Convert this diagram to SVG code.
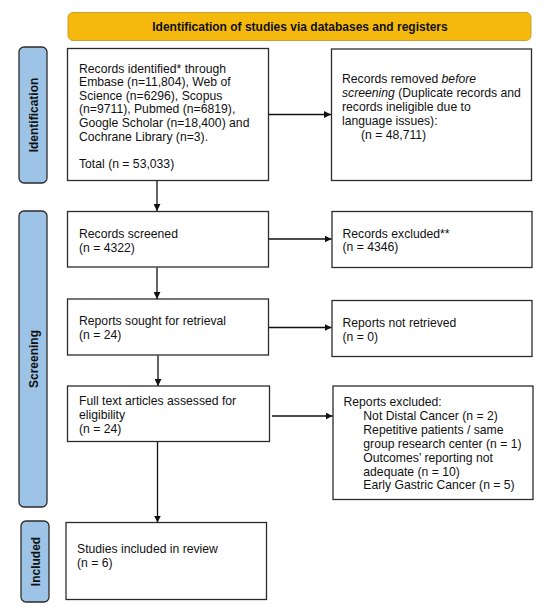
<svg xmlns="http://www.w3.org/2000/svg" width="550" height="614" viewBox="0 0 550 614">
<defs>
<marker id="ah" viewBox="0 0 10 10" refX="10" refY="5" markerWidth="7" markerHeight="7" markerUnits="userSpaceOnUse" orient="auto"><path d="M0,0 L10,5 L0,10 z" fill="#111"/></marker>
<style>
.box{fill:#fff;stroke:#2b2b2b;stroke-width:1.3}
.side{fill:#9dc3e6;stroke:#2b2b2b;stroke-width:1.3}
.t{font-family:"Liberation Sans",Arial,sans-serif;font-size:12.2px;fill:#111}
.b{font-family:"Liberation Sans",Arial,sans-serif;font-size:12px;font-weight:bold;fill:#111}
.c{fill:none;stroke:#111;stroke-width:1.3}
</style>
</defs>
<rect width="550" height="614" fill="#fff"/>
<g id="banner"><rect x="68" y="12.5" width="463" height="28" rx="5" fill="#f5b90d" stroke="#c9a02a" stroke-width="1"/><text class="b" x="300" y="31" text-anchor="middle">Identification of studies via databases and registers</text></g>
<g id="lbl-identification"><rect class="side" x="19" y="47" width="28" height="136" rx="5"/><text class="b" transform="translate(37.5,115) rotate(-90)" text-anchor="middle">Identification</text></g>
<g id="lbl-screening"><rect class="side" x="19" y="211" width="28" height="296" rx="5"/><text class="b" transform="translate(37.5,359) rotate(-90)" text-anchor="middle">Screening</text></g>
<g id="lbl-included"><rect class="side" x="21" y="521" width="28" height="81" rx="5"/><text class="b" transform="translate(39.5,561.5) rotate(-90)" text-anchor="middle">Included</text></g>
<g id="n-identified"><rect class="box" x="67.5" y="48.5" width="201" height="132"/>
<text class="t" x="79" y="72.6">Records identified* through</text>
<text class="t" x="79" y="86.2">Embase (n=11,804), Web of</text>
<text class="t" x="79" y="99.8">Science (n=6296), Scopus</text>
<text class="t" x="79" y="113.4">(n=9711), Pubmed (n=6819),</text>
<text class="t" x="79" y="127">Google Scholar (n=18,400) and</text>
<text class="t" x="79" y="140.6">Cochrane Library (n=3).</text>
<text class="t" x="79" y="167.6">Total (n = 53,033)</text></g>
<g id="n-removed"><rect class="box" x="331.5" y="49" width="200" height="131.5"/>
<text class="t" x="342" y="82.6">Records removed <tspan font-style="italic">before</tspan></text>
<text class="t" x="342" y="96.6"><tspan font-style="italic">screening</tspan> (Duplicate records and</text>
<text class="t" x="342" y="110.6">records ineligible due to</text>
<text class="t" x="342" y="124.6">language issues):</text>
<text class="t" x="361" y="138.6">(n = 48,711)</text></g>
<g id="n-screened"><rect class="box" x="67.5" y="211.5" width="201" height="55.5"/>
<text class="t" x="79" y="237.6">Records screened</text>
<text class="t" x="79" y="251.6">(n = 4322)</text></g>
<g id="n-excluded"><rect class="box" x="332" y="211.5" width="200" height="56"/>
<text class="t" x="342.5" y="237.6">Records excluded**</text>
<text class="t" x="342.5" y="251.2">(n = 4346)</text></g>
<g id="n-sought"><rect class="box" x="67.5" y="299" width="201" height="56"/>
<text class="t" x="79" y="325">Reports sought for retrieval</text>
<text class="t" x="79" y="339.3">(n = 24)</text></g>
<g id="n-notretrieved"><rect class="box" x="332" y="300.5" width="200" height="56"/>
<text class="t" x="342.5" y="327">Reports not retrieved</text>
<text class="t" x="342.5" y="341">(n = 0)</text></g>
<g id="n-assessed"><rect class="box" x="67.5" y="386" width="202" height="55.5"/>
<text class="t" x="79" y="405">Full text articles assessed for</text>
<text class="t" x="79" y="419.3">eligibility</text>
<text class="t" x="79" y="433.3">(n = 24)</text></g>
<g id="n-reportsexcluded"><rect class="box" x="333" y="386" width="200" height="113.5"/>
<text class="t" x="343.5" y="406">Reports excluded:</text>
<text class="t" x="363.3" y="419.9">Not Distal Cancer (n = 2)</text>
<text class="t" x="363.3" y="433.8">Repetitive patients / same</text>
<text class="t" x="363.3" y="447.7">group research center (n = 1)</text>
<text class="t" x="363.3" y="461.6">Outcomes’ reporting not</text>
<text class="t" x="363.3" y="475.5">adequate (n = 10)</text>
<text class="t" x="363.3" y="489.4">Early Gastric Cancer (n = 5)</text></g>
<g id="n-included"><rect class="box" x="66" y="522.5" width="200.5" height="77"/>
<text class="t" x="77" y="552.6">Studies included in review</text>
<text class="t" x="77" y="566.6">(n = 6)</text></g>
<g id="connectors">
<line class="c" x1="157" y1="181" x2="157" y2="211" marker-end="url(#ah)"/>
<line class="c" x1="157" y1="267.5" x2="157" y2="299" marker-end="url(#ah)"/>
<line class="c" x1="158" y1="355.5" x2="158" y2="386" marker-end="url(#ah)"/>
<line class="c" x1="157.5" y1="442" x2="157.5" y2="522.5" marker-end="url(#ah)"/>
<line class="c" x1="269" y1="114.5" x2="331" y2="114.5" marker-end="url(#ah)"/>
<line class="c" x1="269" y1="239" x2="331.5" y2="239" marker-end="url(#ah)"/>
<line class="c" x1="269" y1="327.5" x2="331.5" y2="327.5" marker-end="url(#ah)"/>
<line class="c" x1="272" y1="416" x2="332.5" y2="416" marker-end="url(#ah)"/>
</g>
</svg>
